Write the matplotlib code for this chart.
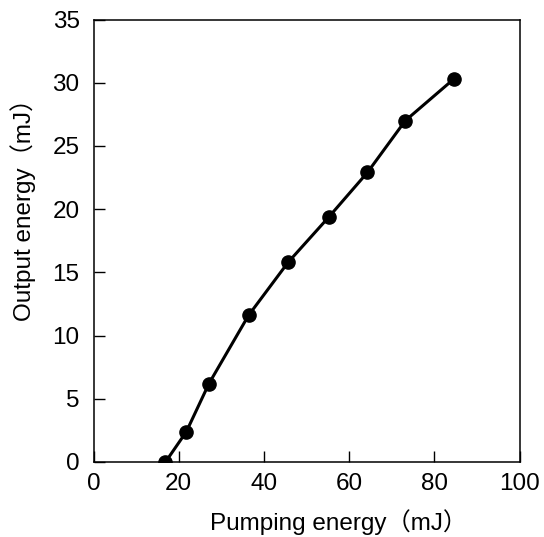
import matplotlib
matplotlib.use("Agg")
import matplotlib.pyplot as plt

# pumping energy (mJ) vs output energy (mJ)
pump = [16.9, 21.8, 27.1, 36.4, 45.7, 55.3, 64.3, 73.2, 84.6]
output = [0.0, 2.4, 6.2, 11.6, 15.8, 19.4, 22.9, 27.0, 30.3]

plt.rcParams["font.family"] = ["Liberation Sans", "Noto Sans CJK JP", "DejaVu Sans"]

fig = plt.figure(figsize=(5.44, 5.37), dpi=100)
ax = fig.add_axes([93.5 / 544, (537 - 462) / 537, 426 / 544, 442.5 / 537])

ax.plot(pump, output, "-o", color="black", lw=2.2, ms=9.5)

ax.set_xlim(0, 100)
ax.set_ylim(0, 35)
ax.set_xticks(range(0, 101, 20))
ax.set_yticks(range(0, 36, 5))
ax.tick_params(direction="in", length=8, width=1, labelsize=17.5,
               top=False, right=False)
ax.tick_params(axis="x", pad=8)
ax.tick_params(axis="y", pad=10)
for s in ax.spines.values():
    s.set_linewidth(1.1)

ax.set_xlabel("Pumping energy（mJ）", fontsize=17.5)
ax.set_ylabel("Output energy（mJ）", fontsize=17.5)
ax.xaxis.set_label_coords(0.576, -0.106)
ax.yaxis.set_label_coords(-0.135, 0.583)

fig.savefig("out.png", dpi=100)
